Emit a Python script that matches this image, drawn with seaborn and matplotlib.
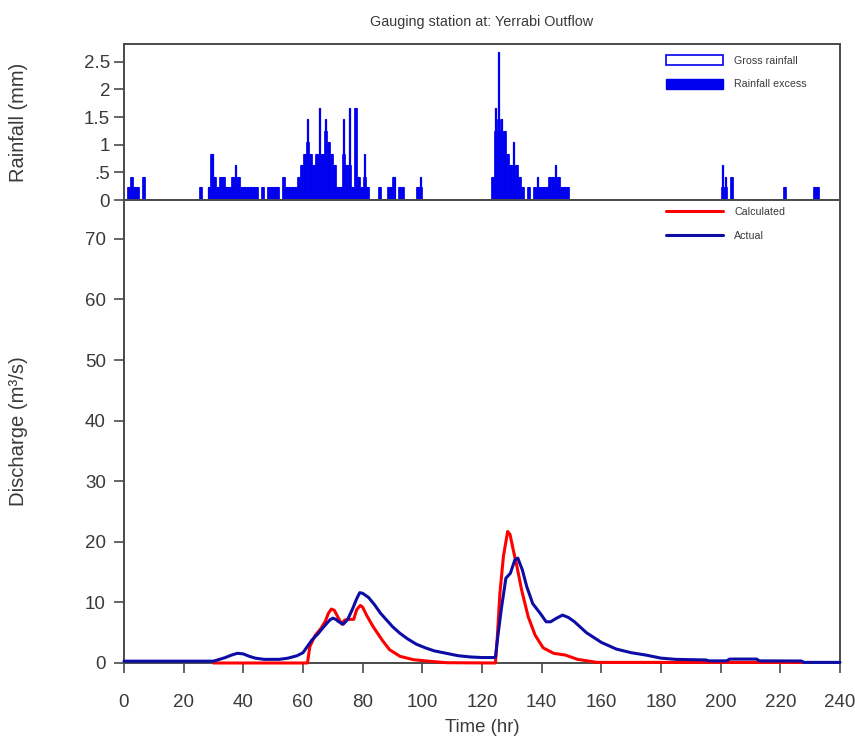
import numpy as np
import pandas as pd
import matplotlib
matplotlib.use('Agg')
import matplotlib.pyplot as plt
from matplotlib.patches import Patch
from matplotlib.lines import Line2D
import seaborn as sns

# ---------------- data ----------------
# hourly rainfall, bar k spans [k, k+1)
rain_hours = [1, 2, 3, 4, 6, 25, 28, 29, 30, 31, 32, 33, 34, 35, 36, 37, 38,
              39, 40, 41, 42, 43, 44, 46, 48, 49, 50, 51, 53, 54, 55, 56, 57,
              58, 59, 60, 61, 62, 63, 64, 65, 66, 67, 68, 69, 70, 71, 72, 73,
              74, 75, 76, 77, 78, 79, 80, 81, 85, 88, 89, 90, 92, 93, 98, 99,
              123, 124, 125, 126, 127, 128, 129, 130, 131, 132, 133, 135, 137,
              138, 139, 140, 141, 142, 143, 144, 145, 146, 147, 148,
              200, 201, 203, 221, 231, 232]
gross_mm = [0.23, 0.42, 0.23, 0.23, 0.42, 0.23, 0.23, 0.83, 0.42, 0.23, 0.42, 0.42, 0.23, 0.23, 0.42, 0.63, 0.42,
            0.23, 0.23, 0.23, 0.23, 0.23, 0.23, 0.23, 0.23, 0.23, 0.23, 0.23, 0.42, 0.23, 0.23, 0.23, 0.23,
            0.42, 0.63, 0.83, 1.46, 0.83, 0.63, 0.83, 1.66, 0.83, 1.46, 1.05, 0.83, 0.63, 0.23, 0.23, 1.46,
            0.63, 1.66, 0.23, 1.66, 0.42, 0.23, 0.83, 0.23, 0.23, 0.23, 0.23, 0.42, 0.23, 0.23, 0.23, 0.42,
            0.42, 1.66, 2.68, 1.46, 1.25, 0.83, 0.63, 1.05, 0.63, 0.42, 0.23, 0.23, 0.23,
            0.42, 0.23, 0.23, 0.23, 0.42, 0.42, 0.63, 0.42, 0.23, 0.23, 0.23,
            0.63, 0.42, 0.42, 0.23, 0.23, 0.23]
excess_mm = [0.23, 0.42, 0.23, 0.23, 0.42, 0.23, 0.23, 0.83, 0.42, 0.23, 0.42, 0.42, 0.23, 0.23, 0.42, 0.42, 0.42,
             0.23, 0.23, 0.23, 0.23, 0.23, 0.23, 0.23, 0.23, 0.23, 0.23, 0.23, 0.42, 0.23, 0.23, 0.23, 0.23,
             0.42, 0.63, 0.83, 1.05, 0.83, 0.63, 0.83, 0.83, 0.83, 1.25, 1.05, 0.83, 0.63, 0.23, 0.23, 0.83,
             0.63, 0.63, 0.23, 1.66, 0.42, 0.23, 0.42, 0.23, 0.23, 0.23, 0.23, 0.42, 0.23, 0.23, 0.23, 0.23,
             0.42, 1.25, 1.46, 1.25, 1.25, 0.83, 0.63, 0.63, 0.63, 0.42, 0.23, 0.23, 0.23,
             0.23, 0.23, 0.23, 0.23, 0.42, 0.42, 0.42, 0.42, 0.23, 0.23, 0.23,
             0.23, 0.23, 0.42, 0.23, 0.23, 0.23]

# discharge hydrographs (m3/s)
actual_t = [0, 30, 32, 34, 36, 38, 40, 42, 44, 47, 52, 55, 58, 60, 61, 63, 65, 67, 69, 70,
            71, 72, 73.5, 75, 76.5, 78, 79, 80, 82, 84, 86, 88, 90, 92.5, 95, 98, 101, 104,
            108, 112, 116, 120, 124.5, 125, 126.5, 128, 129.5, 131, 132, 133.5, 135, 137,
            139.5, 141.5, 143, 145, 147, 149, 151, 155, 160, 165, 170, 175, 180, 185, 195,
            196, 202, 203, 212, 213, 227, 228, 240]
actual_q = [0.3, 0.3, 0.6, 0.9, 1.3, 1.6, 1.5, 1.1, 0.8, 0.6, 0.6, 0.8, 1.2, 1.7, 2.4, 3.8, 4.8, 6.0, 7.1, 7.4,
            7.2, 6.8, 6.4, 7.2, 8.8, 10.6, 11.6, 11.5, 10.8, 9.6, 8.2, 7.1, 6.0, 4.9, 4.0, 3.1, 2.5, 2.0,
            1.6, 1.2, 1.0, 0.9, 0.9, 3.2, 9.0, 14.0, 14.8, 17.0, 17.3, 15.4, 12.6, 9.8,
            8.2, 6.8, 6.8, 7.4, 7.9, 7.5, 6.8, 5.0, 3.4, 2.3, 1.7, 1.3, 0.8, 0.6, 0.5,
            0.35, 0.35, 0.65, 0.65, 0.35, 0.33, 0.1, 0.1]

calc_t = [30, 61.5, 62.3, 64, 66, 67.5, 68.5, 69.5, 70.5, 72, 73, 74, 75.5, 77, 78, 79.2,
          80, 81.3, 83.5, 86.5, 89, 92.5, 97, 102, 108, 124.5, 125, 126, 127.2, 128.6,
          129.4, 130.5, 131.6, 133.3, 135.5, 137.8, 140.5, 144, 148, 152, 156, 158.5, 227]
calc_q = [0.0, 0.0, 2.7, 4.5, 5.7, 6.9, 8.2, 8.9, 8.7, 7.3, 6.4, 7.1, 7.2, 7.2, 8.8, 9.5,
          9.2, 7.9, 6.0, 3.8, 2.2, 1.1, 0.55, 0.3, 0.05, 0.0, 3.2, 11.5, 17.7, 21.7,
          21.2, 18.6, 16.2, 12.0, 7.6, 4.6, 2.5, 1.6, 1.3, 0.6, 0.3, 0.1, 0.1]

x_ticks = list(range(0, 241, 20))
q_ticks = list(range(0, 71, 10))
rain_ticks = [0, 0.5, 1, 1.5, 2, 2.5]
rain_tick_labels = ['0', '.5', '1', '1.5', '2', '2.5']

# ---------------- style ----------------
sns.set_style('ticks')
plt.rcParams['font.family'] = ['Liberation Sans', 'DejaVu Sans']
text_col = '#3a3a3a'
frame_col = '#4a4a4a'
rain_blue = '#0000ee'
calc_red = '#ff0000'
act_blue = '#0d0da6'

fig = plt.figure(figsize=(8.55, 7.54), dpi=100)
ax_r = fig.add_axes([0.145, 0.7347, 0.8375, 0.2069])
ax_q = fig.add_axes([0.145, 0.1207, 0.8375, 0.614], sharex=ax_r)

rain = pd.DataFrame({'hour': rain_hours, 'gross': gross_mm, 'excess': excess_mm})
# gross rainfall: thin outlined bars that poke out above the excess
sns.histplot(data=rain, x='hour', weights='gross', binwidth=1, binrange=(0, 240),
             ax=ax_r, fill=False, color=rain_blue, linewidth=0.9, shrink=0.35)
sns.histplot(data=rain, x='hour', weights='excess', binwidth=1, binrange=(0, 240),
             ax=ax_r, color=rain_blue, alpha=1, edgecolor=rain_blue, linewidth=0.5)

actual = pd.DataFrame({'t': actual_t, 'q': actual_q})
calc = pd.DataFrame({'t': calc_t, 'q': calc_q})
sns.lineplot(data=actual, x='t', y='q', ax=ax_q, color=act_blue, linewidth=2.2,
             errorbar=None, clip_on=False, zorder=4)
sns.lineplot(data=calc, x='t', y='q', ax=ax_q, color=calc_red, linewidth=2.2,
             errorbar=None, clip_on=False, zorder=3)

# ---------------- axes ----------------
ax_q.set_xlim(0, 240)
ax_r.set_ylim(0, 2.82)
ax_q.set_ylim(0, 76.4)

ax_r.set_yticks(rain_ticks)
ax_r.set_yticklabels(rain_tick_labels)
ax_r.tick_params(axis='x', bottom=False, labelbottom=False)
ax_q.set_xticks(x_ticks)
ax_q.set_yticks(q_ticks)

for ax in (ax_r, ax_q):
    for sp in ax.spines.values():
        sp.set_visible(True)
        sp.set_color(frame_col)
        sp.set_linewidth(1.4)
    ax.tick_params(direction='out', length=7, width=1.2, color=frame_col,
                   labelcolor=text_col, labelsize=13.5)
ax_r.tick_params(axis='y', pad=3)
ax_q.tick_params(axis='y', pad=6)
ax_q.tick_params(axis='x', pad=15)

ax_r.set_xlabel('')
ax_r.set_ylabel('Rainfall (mm)', fontsize=14.4, color=text_col)
ax_q.set_ylabel('Discharge (m³/s)', fontsize=14.6, color=text_col)
ax_r.yaxis.set_label_coords(-0.134, 0.5)
ax_q.yaxis.set_label_coords(-0.134, 0.5)
ax_q.set_xlabel('Time (hr)', fontsize=13.4, color=text_col, labelpad=6)
ax_r.set_title('Gauging station at: Yerrabi Outflow', fontsize=10.4,
               color=text_col, pad=13)

rain_handles = [Patch(facecolor='white', edgecolor=rain_blue, linewidth=1.2),
                Patch(facecolor=rain_blue, edgecolor=rain_blue)]
ax_r.legend(rain_handles, ['Gross rainfall', 'Rainfall excess'], loc='upper left',
            bbox_to_anchor=(0.757, 0.93), frameon=False, fontsize=7.7,
            handlelength=5.3, handleheight=1.1, labelspacing=1.2,
            handletextpad=1.1, borderpad=0, borderaxespad=0, labelcolor=text_col)

q_handles = [Line2D([], [], color=calc_red, linewidth=2.2),
             Line2D([], [], color=act_blue, linewidth=2.2)]
ax_q.legend(q_handles, ['Calculated', 'Actual'], loc='upper left',
            bbox_to_anchor=(0.757, 0.985), frameon=False, fontsize=7.7,
            handlelength=5.3, labelspacing=1.3, handletextpad=1.1,
            borderpad=0, borderaxespad=0, labelcolor=text_col)

fig.savefig('out.png', dpi=100)
